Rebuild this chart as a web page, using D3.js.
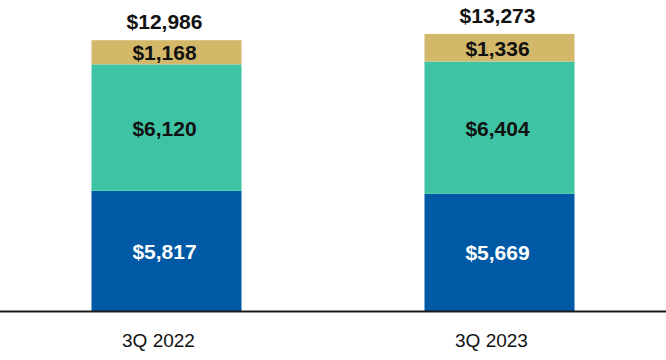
<!DOCTYPE html>
<html>
<head>
<meta charset="utf-8">
<script src="https://cdn.jsdelivr.net/npm/d3@7"></script>
<style>
  html, body { margin: 0; padding: 0; background: #fff; }
  svg { display: block; }
  text { font-family: "Liberation Sans", Arial, sans-serif; }
</style>
</head>
<body>
<svg id="chart" width="666" height="360"></svg>
<script>
// Data
const categories = ["3Q 2022", "3Q 2023"];
const seriesNames = ["Bottom", "Middle", "Top"];
const bottomValues = [5817, 5669];
const middleValues = [6120, 6404];
const topValues = [1168, 1336];
const totalValues = [12986, 13273];
const seriesColors = ["#0059A4", "#3EC4A4", "#D3B86A"];
const labelColors = ["#ffffff", "#111111", "#111111"];

const W = 666, H = 360;
const baseY = 311;

const svg = d3.select("#chart");

const rows = categories.map((c, i) => ({
  cat: c,
  Bottom: bottomValues[i],
  Middle: middleValues[i],
  Top: topValues[i],
  total: totalValues[i]
}));

const x = d3.scaleBand()
  .domain(categories)
  .range([0, W])
  .paddingInner(0.5495)
  .paddingOuter(0.5495 / 2);

const y = d3.scaleLinear()
  .domain([0, 15050])
  .range([baseY, 0]);

const stack = d3.stack().keys(seriesNames);
const layers = stack(rows);

const fmt = v => "$" + d3.format(",")(v);

const g = svg.append("g");

layers.forEach((layer, li) => {
  g.selectAll(null)
    .data(layer)
    .join("rect")
    .attr("x", d => x(d.data.cat))
    .attr("width", x.bandwidth())
    .attr("y", d => y(d[1]))
    .attr("height", d => y(d[0]) - y(d[1]))
    .attr("fill", seriesColors[li]);

  g.selectAll(null)
    .data(layer)
    .join("text")
    .attr("x", d => x(d.data.cat) + x.bandwidth() / 2 - 2)
    .attr("y", d => (y(d[0]) + y(d[1])) / 2 + 8)
    .attr("text-anchor", "middle")
    .attr("font-size", 21)
    .attr("font-weight", "bold")
    .attr("fill", labelColors[li])
    .text(d => fmt(d.data[layer.key]));
});

// Totals
g.selectAll(null)
  .data(rows)
  .join("text")
  .attr("x", d => x(d.cat) + x.bandwidth() / 2 - 2)
  .attr("y", d => y(d.total) - 14)
  .attr("text-anchor", "middle")
  .attr("font-size", 21)
  .attr("font-weight", "bold")
  .attr("fill", "#111")
  .text(d => fmt(d.total));

// Baseline
svg.append("line")
  .attr("x1", 0).attr("x2", W)
  .attr("y1", baseY + 0.5).attr("y2", baseY + 0.5)
  .attr("stroke", "#1a1a1a")
  .attr("stroke-width", 2);

// X axis labels
const xAxis = d3.axisBottom(x).tickSize(0).tickPadding(0);
const ax = svg.append("g")
  .attr("transform", `translate(0,${baseY})`)
  .call(xAxis);
ax.select(".domain").remove();
ax.selectAll("text")
  .attr("font-family", "\"Liberation Sans\", Arial, sans-serif")
  .attr("font-size", 19)
  .attr("fill", "#111")
  .attr("dy", null)
  .attr("y", 36)
  .attr("dx", -8);
</script>
</body>
</html>
